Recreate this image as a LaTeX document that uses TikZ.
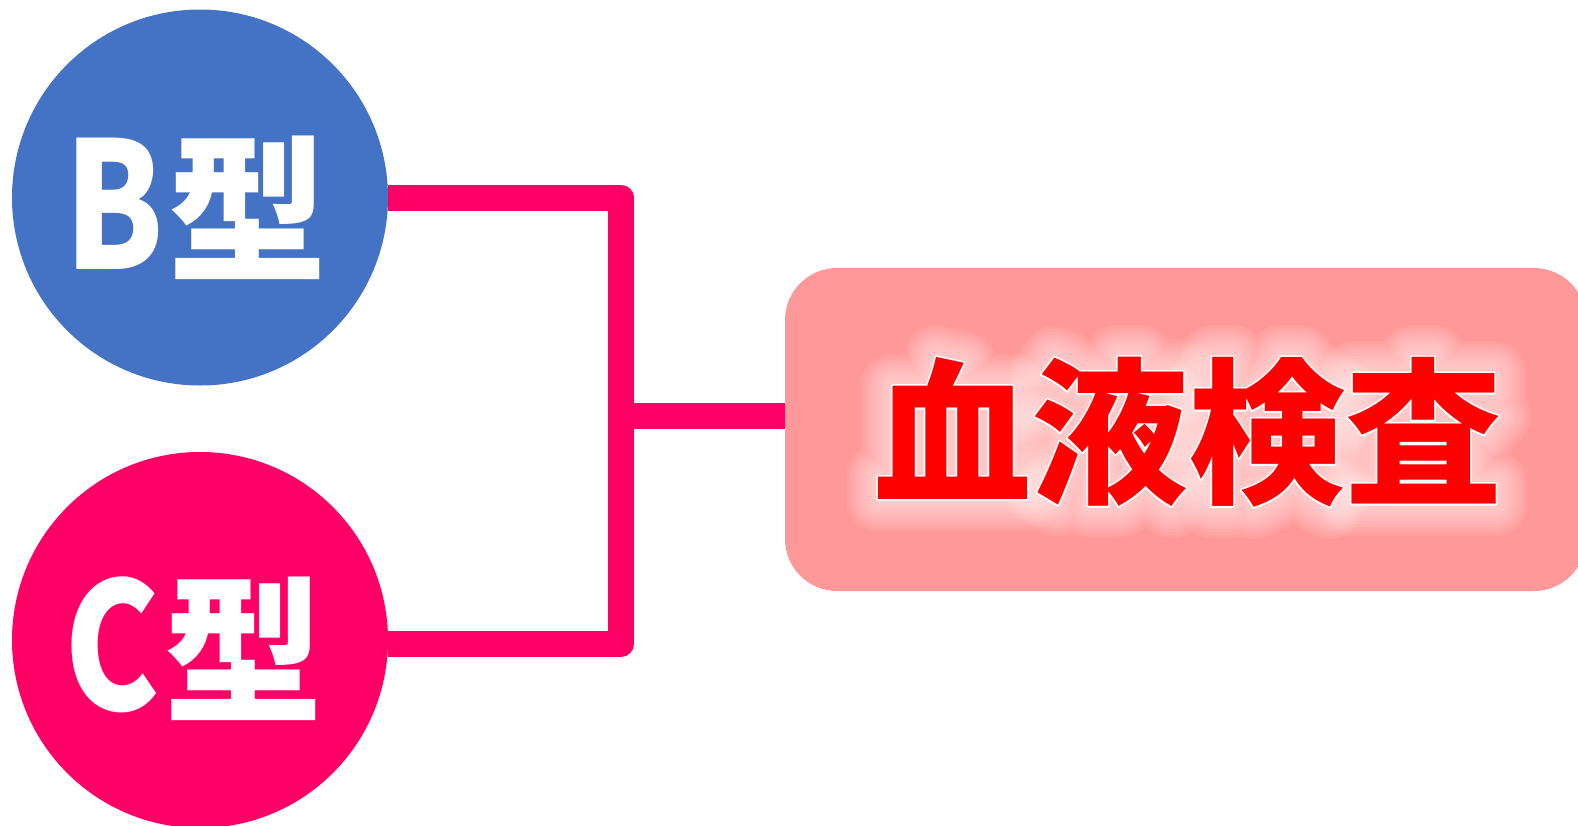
\documentclass[tikz,border=0pt]{standalone}
\usepackage{fontspec}
\usepackage{graphicx}
\newfontfamily\jp{Noto Sans CJK JP}
\definecolor{cblue}{HTML}{4472C4}
\definecolor{cpink}{HTML}{FF0066}
\definecolor{crect}{HTML}{FF9999}
\definecolor{cred}{HTML}{FF0000}
\newcommand\strokeonly[2]{\special{pdf:literal direct 1 Tr #1 w 1 J 1 j}#2\special{pdf:literal direct 0 Tr}}
\newcommand\narrowlat[1]{\scalebox{0.9}[1.11]{#1}\hspace{5pt}}
\tikzset{
  typecircle/.style={circle, minimum size=376pt, inner sep=0pt},
  typetext/.style={text=white, inner sep=0pt, font=\jp\bfseries\fontsize{159}{159}\selectfont},
  conn/.style={draw=cpink, line width=26pt, line join=round},
  bigbox/.style={fill=crect, rounded corners=52pt, minimum width=801pt, minimum height=323pt, inner sep=0pt},
  titletext/.style={inner sep=0pt, font=\jp\bfseries\fontsize{157}{157}\selectfont},
}
\begin{document}
\begin{tikzpicture}[x=1pt,y=-1pt]
\useasboundingbox (0,0) rectangle (1578,825);
\begin{scope}
\clip (0,0) rectangle (1578,825);
\node[typecircle, fill=cblue] (b) at (200,197.5) {};
\node[typecircle, fill=cpink] (c) at (200,640) {};
\node[typetext] (bt) at (196,207.5) {\narrowlat{B}型};
\node[typetext] (ct) at (194,649) {\narrowlat{C}型};
\node[bigbox] (r) at (1185.5,429.5) {};
\coordinate (j) at (621,416);
\draw[conn] (b.east) -| (j) |- ([yshift=-4pt]c.east);
\draw[conn] (j) -- (j -| r.west);
\foreach \w in {64,58,52,46,40,34,28,22,16,10} {
  \begin{scope}[opacity=0.065]
  \node[titletext, text=white] at (1188,432) {\strokeonly{\w}{血液検査}};
  \end{scope}
}
\node[titletext, text=white] at (1188,432) {\strokeonly{3.5}{血液検査}};
\node[titletext, text=cred] (t) at (1188,432) {血液検査};
\end{scope}
\end{tikzpicture}
\end{document}
